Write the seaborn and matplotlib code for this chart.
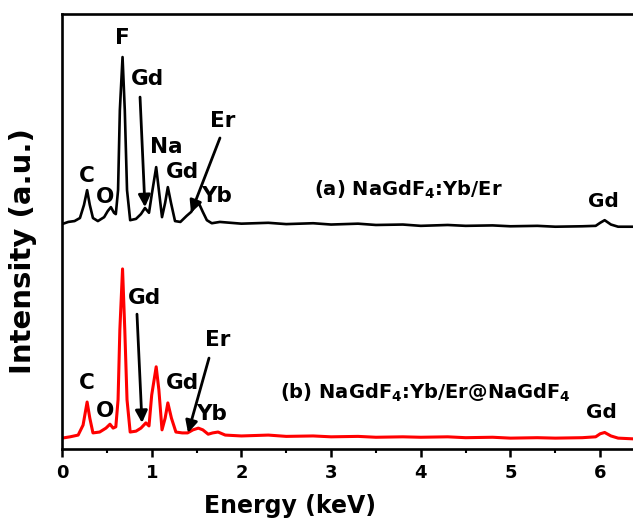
import matplotlib
matplotlib.use("Agg")
import matplotlib.pyplot as plt
import seaborn as sns
import pandas as pd

# ---- data ----
energy_a = [0.00, 0.07, 0.14, 0.20, 0.245, 0.28, 0.31, 0.345, 0.40, 0.47, 0.51, 0.545, 0.58, 0.60,
            0.625, 0.645, 0.675, 0.70, 0.725, 0.76, 0.825, 0.88, 0.925, 0.97, 1.00, 1.05, 1.08,
            1.115, 1.15, 1.18, 1.215, 1.26, 1.32, 1.39, 1.44, 1.495, 1.53, 1.57, 1.615, 1.67,
            1.76, 2.0, 2.3, 2.5, 2.8, 3.0, 3.3, 3.5, 3.8, 4.0, 4.3, 4.5, 4.8, 5.0, 5.3, 5.5,
            5.8, 5.95, 6.0, 6.05, 6.12, 6.2, 6.4]
intensity_a = [51.7, 52.2, 52.4, 53.1, 56.1, 59.5, 56.1, 53.1, 52.4, 53.3, 54.7, 55.6, 54.3, 54.0,
               59.5, 77.9, 90.1, 77.9, 59.5, 52.6, 52.9, 54.0, 55.4, 54.3, 58.4, 64.8, 59.5,
               53.3, 56.6, 60.2, 56.6, 52.4, 52.2, 53.6, 54.5, 56.3, 56.3, 54.5, 52.6, 51.9,
               52.2, 51.8, 52.0, 51.7, 51.9, 51.6, 51.8, 51.5, 51.6, 51.3, 51.5, 51.3, 51.4, 51.2,
               51.3, 51.1, 51.2, 51.3, 52.0, 52.6, 51.6, 51.1, 51.1]

energy_b = [0.00, 0.09, 0.18, 0.235, 0.28, 0.31, 0.345, 0.42, 0.49, 0.535, 0.57, 0.60, 0.625,
            0.645, 0.675, 0.70, 0.725, 0.76, 0.825, 0.88, 0.935, 0.97, 1.00, 1.05, 1.08, 1.115,
            1.15, 1.18, 1.22, 1.27, 1.34, 1.40, 1.46, 1.52, 1.57, 1.63, 1.68, 1.74, 1.82, 2.0,
            2.3, 2.5, 2.8, 3.0, 3.3, 3.5, 3.8, 4.0, 4.3, 4.5, 4.8, 5.0, 5.3, 5.5, 5.8, 5.95,
            6.0, 6.05, 6.12, 6.2, 6.4]
intensity_b = [2.5, 2.8, 3.2, 5.5, 10.8, 7.1, 3.7, 3.9, 4.8, 5.7, 4.8, 5.1, 11.3, 27.4, 41.4,
               27.4, 11.3, 3.9, 4.1, 4.8, 6.0, 5.3, 12.4, 18.9, 13.6, 4.4, 7.1, 10.6, 7.1, 3.9,
               3.7, 3.7, 4.4, 4.8, 4.4, 3.4, 3.7, 3.9, 3.2, 3.0, 3.2, 2.9, 3.0, 2.8, 2.9, 2.7,
               2.8, 2.7, 2.8, 2.6, 2.7, 2.5, 2.6, 2.5, 2.6, 2.8, 3.5, 3.8, 3.0, 2.5, 2.3]

label_a = "(a) NaGdF$_\\mathbf{4}$:Yb/Er"
label_b = "(b) NaGdF$_\\mathbf{4}$:Yb/Er@NaGdF$_\\mathbf{4}$"
x_ticks = [0, 1, 2, 3, 4, 5, 6]

df = pd.concat([
    pd.DataFrame({"Energy": energy_a, "Intensity": intensity_a, "sample": "a"}),
    pd.DataFrame({"Energy": energy_b, "Intensity": intensity_b, "sample": "b"}),
])

sns.set_theme(style="ticks")
plt.rcParams["font.family"] = ["DejaVu Sans"]
plt.rcParams["font.weight"] = "bold"
plt.rcParams["mathtext.default"] = "bf"

fig = plt.figure(figsize=(6.33, 5.23), dpi=100)
ax = fig.add_axes([62/633, 74/523, 1 - 62/633, 435/523])

sns.lineplot(data=df, x="Energy", y="Intensity", hue="sample", units="sample",
             estimator=None, sort=False, palette={"a": "black", "b": "#ff0000"},
             legend=False, ax=ax)
for line, lw in zip(ax.lines, [1.9, 2.2]):
    line.set_linewidth(lw)

ax.set_xlim(0, 6.366)
ax.set_ylim(0, 100)
ax.set_yticks([])
ax.set_xticks(x_ticks)
ax.set_xticks([0.5, 1.5, 2.5, 3.5, 4.5, 5.5], minor=True)
ax.tick_params(axis="x", which="major", direction="out", length=6, width=1.8,
               labelsize=13, pad=5, color="black", labelcolor="black")
ax.tick_params(axis="x", which="minor", direction="out", length=3, width=1.5, color="black")
for lab in ax.get_xticklabels():
    lab.set_fontweight("bold")
for side in ["left", "bottom", "top"]:
    ax.spines[side].set_linewidth(1.9)
    ax.spines[side].set_color("black")
ax.spines["right"].set_visible(False)

ax.set_xlabel("Energy (keV)", fontsize=17, fontweight="bold", color="black")
ax.xaxis.set_label_coords((290 - 62) / 571, -0.103)
ax.set_ylabel("Intensity (a.u.)", fontsize=21, fontweight="bold", color="black")
ax.yaxis.set_label_coords(-0.044, 0.455)

fs = 15.5
def lbl(x, y, s, size=fs):
    ax.text(x, y, s, ha="center", va="center", fontsize=size, fontweight="bold", color="black")

arrow = dict(arrowstyle="-|>", lw=2, color="black", mutation_scale=18, shrinkA=0, shrinkB=0)

# sample (a)
lbl(0.279, 62.8, "C")
lbl(0.479, 57.9, "O")
lbl(0.669, 94.5, "F")
lbl(0.948, 85.1, "Gd")
ax.annotate("", xy=(0.925, 55.6), xytext=(0.870, 80.9), arrowprops=arrow)
lbl(1.159, 69.4, "Na")
lbl(1.338, 63.7, "Gd")
lbl(1.795, 75.4, "Er")
ax.annotate("", xy=(1.438, 54.3), xytext=(1.761, 71.5), arrowprops=arrow)
lbl(1.728, 58.2, "Yb")
lbl(3.857, 59.5, label_a, size=14)
lbl(6.031, 56.8, "Gd", size=14.5)

# sample (b)
lbl(0.279, 15.2, "C")
lbl(0.479, 8.7, "O")
lbl(0.914, 34.7, "Gd")
ax.annotate("", xy=(0.892, 6.0), xytext=(0.836, 31.0), arrowprops=arrow)
lbl(1.338, 15.2, "Gd")
lbl(1.739, 25.1, "Er")
ax.annotate("", xy=(1.405, 3.7), xytext=(1.639, 20.9), arrowprops=arrow)
lbl(1.672, 8.0, "Yb")
lbl(4.047, 12.9, label_b, size=14)
lbl(6.009, 8.5, "Gd", size=14.5)

fig.savefig("out.png", dpi=100)
